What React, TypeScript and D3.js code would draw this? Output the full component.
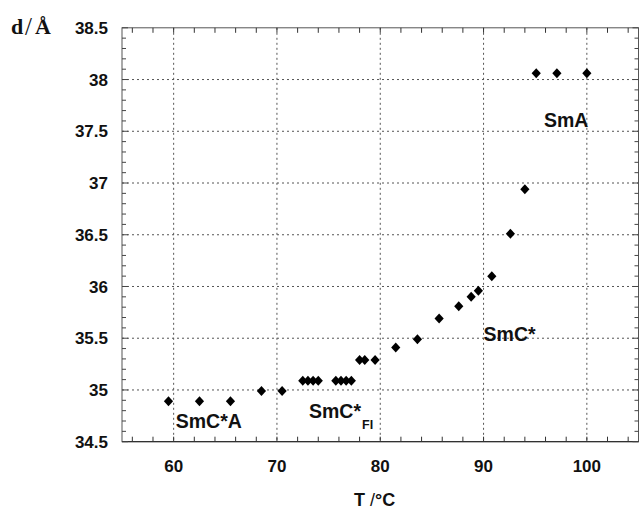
import React from "react";
import * as d3 from "d3";

const temps = [59.5, 62.5, 65.5, 68.5, 70.5, 72.5, 73.0, 73.5, 74.0, 75.7, 76.2, 76.7, 77.2, 78.0, 78.5, 79.5, 81.5, 83.6, 85.7, 87.6, 88.8, 89.5, 90.8, 92.6, 94.0, 95.1, 97.1, 100.0];
const spacing = [34.89, 34.89, 34.89, 34.99, 34.99, 35.09, 35.09, 35.09, 35.09, 35.09, 35.09, 35.09, 35.09, 35.29, 35.29, 35.29, 35.41, 35.49, 35.69, 35.81, 35.9, 35.96, 36.1, 36.51, 36.94, 38.06, 38.06, 38.06];
const xTickLabels = [60, 70, 80, 90, 100];
const yTickLabels = [34.5, 35, 35.5, 36, 36.5, 37, 37.5, 38, 38.5];
const phaseLabels = [
  { text: "SmC*A", t: 60.2, d: 34.63, sub: "" },
  { text: "SmC*", t: 73.1, d: 34.73, sub: "FI" },
  { text: "SmC*", t: 90.0, d: 35.47, sub: "" },
  { text: "SmA", t: 95.85, d: 37.54, sub: "" },
];

const W = 639, H = 509;
const L = 122, R = 638.5, T = 27.8, B = 441.7;

export default function App() {
  const x = d3.scaleLinear().domain([55, 105]).range([L, R]);
  const y = d3.scaleLinear().domain([34.5, 38.5]).range([B, T]);
  const xMinor = d3.range(56, 105, 2);
  const yMinor = d3.range(345, 386, 1).map((v) => v / 10);
  const gridY = yTickLabels.filter((v) => v > 34.5 && v < 38.5);
  const font = "'Liberation Sans', Arial, sans-serif";
  const serif = "'Liberation Serif', 'Times New Roman', serif";
  const diamond = (cx: number, cy: number) =>
    `M${cx},${cy - 5}L${cx + 4.6},${cy}L${cx},${cy + 5}L${cx - 4.6},${cy}Z`;
  return (
    <svg width={W} height={H} style={{ position: "absolute", left: 0, top: 0, background: "#fff" }}>
      {/* grid */}
      {xTickLabels.map((v) => (
        <line key={"gx" + v} x1={x(v)} x2={x(v)} y1={T} y2={B} stroke="#555" strokeWidth={1} strokeDasharray="2,3" />
      ))}
      {gridY.map((v) => (
        <line key={"gy" + v} x1={L} x2={R} y1={y(v)} y2={y(v)} stroke="#555" strokeWidth={1} strokeDasharray="2,3" />
      ))}
      {/* frame */}
      <rect x={L} y={T} width={R - L} height={B - T} fill="none" stroke="#555" strokeWidth={1} />
      <line x1={L} x2={R} y1={B} y2={B} stroke="#222" strokeWidth={1} />
      {/* x minor ticks */}
      {xMinor.map((v) => (
        <g key={"xt" + v}>
          <line x1={x(v)} x2={x(v)} y1={B} y2={B - 5} stroke="#333" />
          <line x1={x(v)} x2={x(v)} y1={T} y2={T + 5} stroke="#333" />
        </g>
      ))}
      {/* y minor ticks */}
      {yMinor.map((v) => {
        const major = Math.abs(v * 2 - Math.round(v * 2)) < 1e-6;
        const len = major ? 6 : 4;
        return (
          <g key={"yt" + v}>
            <line x1={L} x2={L + len} y1={y(v)} y2={y(v)} stroke="#444" />
            <line x1={R} x2={R - len} y1={y(v)} y2={y(v)} stroke="#444" />
          </g>
        );
      })}
      {/* tick labels */}
      {yTickLabels.map((v) => (
        <text key={"yl" + v} x={108} y={y(v)} dy="0.36em" textAnchor="end" fontFamily={font} fontWeight="bold" fontSize={17} fill="#111">
          {String(v)}
        </text>
      ))}
      {xTickLabels.map((v) => (
        <text key={"xl" + v} x={x(v)} y={472} textAnchor="middle" fontFamily={font} fontWeight="bold" fontSize={17} fill="#111">
          {String(v)}
        </text>
      ))}
      {/* axis titles */}
      <text y={34} fontFamily={serif} fontWeight="bold" fontSize={22} fill="#111">
        <tspan x={11}>d</tspan>
        <tspan x={25} y={35} fontWeight="normal" fontSize={25}>/</tspan>
        <tspan x={35} y={34}>Å</tspan>
      </text>
      <text x={354} y={506} fontFamily={font} fontWeight="bold" fontSize={18} fill="#111">
        T <tspan fontWeight="normal">/</tspan>°C
      </text>
      {/* data */}
      {temps.map((t, i) => (
        <path key={"p" + i} d={diamond(x(t), y(spacing[i]))} fill="#000" />
      ))}
      {/* phase labels */}
      {phaseLabels.map((p, i) => (
        <text key={"ph" + i} x={x(p.t)} y={y(p.d)} fontFamily={font} fontWeight="bold" fontSize={19.5} fill="#111">
          {p.text}
          {p.sub ? (
            <tspan fontSize={12.5} dy="11" dx="1">{p.sub}</tspan>
          ) : null}
        </text>
      ))}
    </svg>
  );
}
